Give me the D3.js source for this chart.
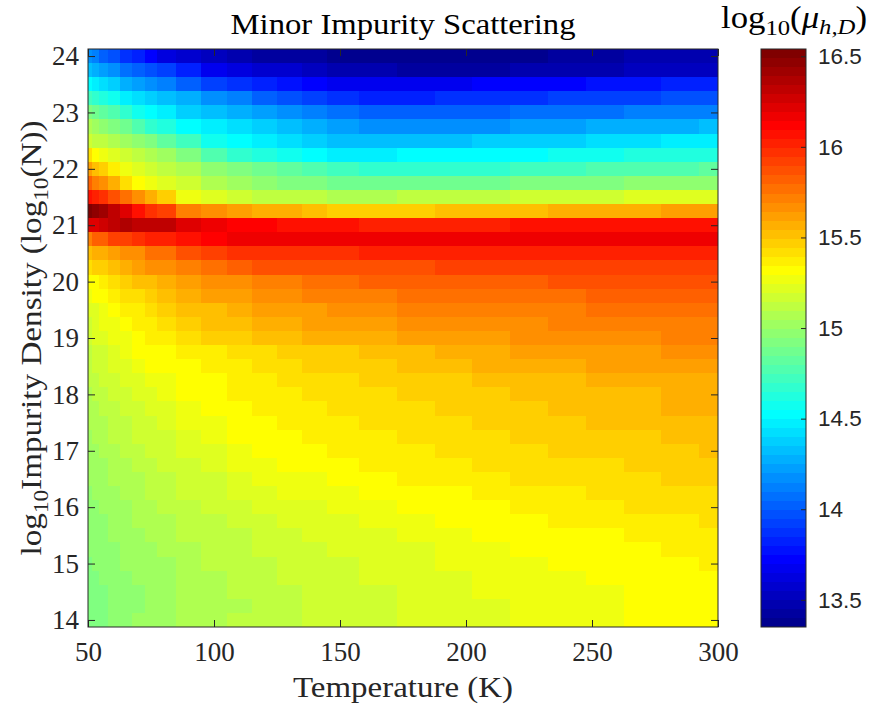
<!DOCTYPE html>
<html><head><meta charset="utf-8">
<script src="https://cdn.jsdelivr.net/npm/d3@7"></script>
<style>body{margin:0;background:#fff}svg{display:block}
.ax text{font-family:'Liberation Serif','Times New Roman',serif !important;}
.cb text{font-family:'Liberation Sans',Arial,sans-serif !important;}
</style>
</head><body><svg id="chart" width="873" height="709"></svg>
<script>
// ---------------- data ----------------
const temperatures = [50,53,56,60,65,70,75,80,90,100,110,120,130,140,150,165,180,195,210,225,240,255,270,285,300];
const densities = [24,23.75,23.5,23.25,23,22.75,22.5,22.25,22,21.75,21.5,21.25,21,20.75,20.5,20.25,20,19.75,19.5,19.25,19,18.75,18.5,18.25,18,17.75,17.5,17.25,17,16.75,16.5,16.25,16,15.75,15.5,15.25,15,14.75,14.5,14.25,14];
// log10(mu_h,D), one row per density (top row = 24), one entry per temperature
const mobility = [
[14.18,14.13,14.03,13.98,13.88,13.83,13.73,13.63,13.58,13.53,13.48,13.43,13.43,13.43,13.38,13.38,13.38,13.38,13.38,13.38,13.43,13.43,13.48,13.48,13.48],
[14.33,14.28,14.23,14.18,14.08,14.03,13.98,13.93,13.83,13.68,13.63,13.58,13.58,13.53,13.48,13.48,13.43,13.43,13.43,13.48,13.48,13.48,13.53,13.53,13.53],
[14.53,14.48,14.43,14.38,14.28,14.23,14.18,14.13,14.03,13.93,13.88,13.83,13.78,13.73,13.68,13.68,13.68,13.68,13.73,13.73,13.73,13.78,13.78,13.83,13.83],
[14.73,14.68,14.63,14.58,14.48,14.43,14.38,14.33,14.28,14.18,14.13,14.03,13.98,13.93,13.88,13.83,13.83,13.88,13.88,13.88,13.93,13.93,13.93,13.98,13.98],
[14.93,14.88,14.83,14.78,14.68,14.58,14.53,14.48,14.38,14.33,14.28,14.23,14.18,14.13,14.08,14.03,14.03,14.03,14.03,14.08,14.08,14.08,14.13,14.13,14.13],
[15.08,15.03,14.98,14.93,14.88,14.78,14.68,14.63,14.53,14.48,14.43,14.38,14.33,14.28,14.23,14.18,14.18,14.18,14.18,14.23,14.23,14.28,14.28,14.28,14.33],
[15.18,15.13,15.13,15.08,15.03,14.98,14.93,14.83,14.73,14.58,14.53,14.48,14.43,14.38,14.33,14.33,14.33,14.33,14.38,14.38,14.38,14.43,14.43,14.48,14.48],
[15.43,15.33,15.28,15.23,15.18,15.13,15.08,15.03,14.93,14.78,14.68,14.63,14.58,14.53,14.48,14.48,14.53,14.53,14.53,14.53,14.58,14.58,14.63,14.63,14.63],
[15.63,15.53,15.48,15.38,15.28,15.23,15.18,15.13,15.08,14.98,14.93,14.88,14.83,14.78,14.73,14.68,14.68,14.68,14.68,14.73,14.73,14.78,14.78,14.78,14.83],
[15.83,15.73,15.68,15.58,15.43,15.33,15.28,15.23,15.18,15.08,15.03,14.98,14.93,14.93,14.88,14.88,14.88,14.88,14.88,14.93,14.93,14.93,14.98,14.98,14.98],
[16.08,16.03,15.98,15.88,15.78,15.68,15.58,15.48,15.28,15.23,15.18,15.13,15.13,15.13,15.08,15.08,15.13,15.13,15.13,15.18,15.18,15.18,15.23,15.23,15.23],
[16.53,16.48,16.43,16.33,16.23,16.08,15.98,15.93,15.73,15.68,15.63,15.58,15.58,15.53,15.48,15.48,15.48,15.53,15.53,15.53,15.58,15.58,15.58,15.63,15.63],
[16.23,16.23,16.28,16.33,16.38,16.33,16.33,16.33,16.23,16.18,16.13,16.13,16.08,16.08,16.08,16.03,16.03,16.03,16.03,16.08,16.08,16.08,16.08,16.08,16.08],
[15.73,15.83,15.83,15.93,15.93,15.98,16.03,16.03,16.08,16.13,16.18,16.18,16.18,16.18,16.18,16.18,16.18,16.18,16.18,16.18,16.18,16.18,16.18,16.18,16.18],
[15.53,15.58,15.58,15.63,15.68,15.68,15.78,15.78,15.88,15.93,15.98,15.98,15.98,15.98,15.98,16.03,16.03,16.03,16.03,16.03,16.03,16.03,16.03,16.03,16.03],
[15.43,15.48,15.48,15.53,15.58,15.63,15.68,15.68,15.73,15.78,15.83,15.88,15.88,15.88,15.88,15.88,15.88,15.93,15.93,15.93,15.93,15.93,15.93,15.93,15.93],
[15.33,15.33,15.38,15.43,15.48,15.53,15.53,15.58,15.63,15.68,15.68,15.73,15.73,15.78,15.78,15.83,15.83,15.83,15.83,15.83,15.88,15.88,15.88,15.88,15.88],
[15.28,15.33,15.33,15.38,15.43,15.43,15.48,15.53,15.58,15.63,15.63,15.68,15.68,15.73,15.73,15.73,15.78,15.78,15.78,15.78,15.78,15.83,15.83,15.83,15.83],
[15.23,15.23,15.28,15.33,15.38,15.38,15.43,15.48,15.53,15.53,15.58,15.63,15.63,15.63,15.68,15.68,15.73,15.73,15.73,15.73,15.73,15.78,15.78,15.78,15.78],
[15.18,15.23,15.28,15.28,15.33,15.38,15.38,15.43,15.48,15.53,15.53,15.58,15.58,15.63,15.63,15.63,15.68,15.68,15.68,15.68,15.73,15.73,15.73,15.73,15.73],
[15.18,15.23,15.23,15.28,15.28,15.33,15.38,15.38,15.43,15.48,15.48,15.53,15.53,15.58,15.58,15.58,15.63,15.63,15.63,15.68,15.68,15.68,15.68,15.73,15.73],
[15.13,15.18,15.18,15.23,15.28,15.33,15.33,15.33,15.38,15.38,15.43,15.43,15.48,15.48,15.48,15.53,15.53,15.58,15.58,15.63,15.63,15.63,15.63,15.68,15.68],
[15.13,15.18,15.18,15.23,15.23,15.28,15.33,15.33,15.33,15.38,15.38,15.43,15.43,15.48,15.48,15.48,15.53,15.53,15.58,15.58,15.58,15.63,15.63,15.63,15.63],
[15.13,15.13,15.18,15.18,15.23,15.23,15.28,15.28,15.33,15.33,15.38,15.38,15.43,15.43,15.43,15.48,15.48,15.48,15.53,15.53,15.53,15.58,15.58,15.58,15.58],
[15.08,15.13,15.13,15.18,15.18,15.23,15.23,15.28,15.33,15.33,15.38,15.38,15.38,15.43,15.43,15.43,15.48,15.48,15.48,15.53,15.53,15.53,15.53,15.58,15.58],
[15.08,15.08,15.13,15.13,15.18,15.18,15.23,15.23,15.28,15.33,15.33,15.38,15.38,15.38,15.43,15.43,15.43,15.48,15.48,15.48,15.53,15.53,15.53,15.58,15.58],
[15.08,15.08,15.08,15.13,15.13,15.18,15.18,15.23,15.28,15.28,15.33,15.33,15.38,15.38,15.38,15.43,15.43,15.43,15.48,15.48,15.48,15.53,15.53,15.53,15.53],
[15.03,15.08,15.08,15.13,15.13,15.18,15.18,15.18,15.23,15.28,15.33,15.33,15.33,15.38,15.38,15.38,15.43,15.43,15.43,15.48,15.48,15.48,15.48,15.53,15.53],
[15.03,15.03,15.08,15.08,15.13,15.13,15.18,15.18,15.23,15.23,15.28,15.33,15.33,15.33,15.38,15.38,15.38,15.43,15.43,15.43,15.48,15.48,15.48,15.48,15.53],
[15.03,15.03,15.03,15.08,15.08,15.13,15.13,15.18,15.18,15.23,15.28,15.28,15.33,15.33,15.33,15.38,15.38,15.38,15.43,15.43,15.43,15.43,15.48,15.48,15.48],
[15.03,15.03,15.03,15.08,15.08,15.08,15.13,15.13,15.18,15.18,15.23,15.28,15.28,15.28,15.33,15.33,15.38,15.38,15.38,15.43,15.43,15.43,15.43,15.48,15.48],
[14.98,15.03,15.03,15.03,15.08,15.08,15.13,15.13,15.18,15.18,15.23,15.23,15.28,15.28,15.28,15.33,15.33,15.33,15.38,15.38,15.38,15.43,15.43,15.43,15.43],
[14.98,14.98,15.03,15.03,15.03,15.08,15.08,15.13,15.13,15.18,15.18,15.23,15.23,15.23,15.28,15.28,15.33,15.33,15.33,15.38,15.38,15.38,15.43,15.43,15.43],
[14.98,14.98,14.98,15.03,15.03,15.08,15.08,15.08,15.13,15.13,15.18,15.18,15.23,15.23,15.23,15.28,15.28,15.33,15.33,15.33,15.38,15.38,15.38,15.38,15.43],
[14.98,14.98,14.98,15.03,15.03,15.03,15.08,15.08,15.13,15.13,15.13,15.18,15.18,15.23,15.23,15.23,15.28,15.28,15.33,15.33,15.33,15.33,15.38,15.38,15.38],
[14.98,14.98,14.98,14.98,15.03,15.03,15.03,15.08,15.08,15.13,15.13,15.18,15.18,15.18,15.23,15.23,15.23,15.28,15.28,15.33,15.33,15.33,15.33,15.38,15.38],
[14.93,14.98,14.98,14.98,15.03,15.03,15.03,15.03,15.08,15.13,15.13,15.13,15.18,15.18,15.18,15.23,15.23,15.28,15.28,15.28,15.33,15.33,15.33,15.33,15.38],
[14.93,14.93,14.98,14.98,14.98,15.03,15.03,15.03,15.08,15.08,15.13,15.13,15.18,15.18,15.18,15.23,15.23,15.23,15.28,15.28,15.28,15.33,15.33,15.33,15.33],
[14.93,14.93,14.93,14.98,14.98,14.98,15.03,15.03,15.08,15.08,15.13,15.13,15.13,15.18,15.18,15.18,15.23,15.23,15.28,15.28,15.28,15.28,15.33,15.33,15.33],
[14.93,14.93,14.93,14.98,14.98,14.98,15.03,15.03,15.08,15.08,15.08,15.13,15.13,15.18,15.18,15.18,15.23,15.23,15.23,15.28,15.28,15.28,15.33,15.33,15.33],
[14.93,14.93,14.93,14.98,14.98,15.03,15.03,15.03,15.08,15.08,15.13,15.13,15.13,15.18,15.18,15.18,15.23,15.23,15.23,15.28,15.28,15.28,15.33,15.33,15.33]
];
const xTicks = [50,100,150,200,250,300];
const yTicks = [14,15,16,17,18,19,20,21,22,23,24];
const colorTicks = [13.5,14,14.5,15,15.5,16,16.5];
const colorDomain = [13.35, 16.54];
const xDomain = [50, 300];

// ---------------- layout ----------------
const plot = {left: 88, right: 718, top: 49, bottom: 627};
const cbar = {left: 761, right: 806};
const axisColor = "#262626";
const serif = "'Liberation Serif', 'Times New Roman', serif";
const sans = "'Liberation Sans', Arial, sans-serif";

// MATLAB-style jet colormap with 64 entries
function jetColor(k) { // k = 1..64
  const r = k <= 24 ? 0 : k <= 40 ? (k - 24) / 16 : k <= 56 ? 1 : 1 - (k - 56) / 16;
  const g = k <= 8 ? 0 : k <= 24 ? (k - 8) / 16 : k <= 40 ? 1 : k <= 56 ? 1 - (k - 40) / 16 : 0;
  const b = k <= 8 ? (k + 8) / 16 : k <= 24 ? 1 : k <= 40 ? 1 - (k - 24) / 16 : 0;
  return d3.rgb(r * 255, g * 255, b * 255).formatHex();
}
const jet = d3.range(1, 65).map(jetColor);

const svg = d3.select("#chart");
const half = (densities[0] - densities[1]) / 2;
const x = d3.scaleLinear(xDomain, [plot.left, plot.right]);
const y = d3.scaleLinear([densities[densities.length - 1] - half, densities[0] + half], [plot.bottom, plot.top]);
const color = d3.scaleQuantize(colorDomain, jet);

// column edges (midpoints between sampled temperatures)
const edges = [xDomain[0]];
for (let j = 1; j < temperatures.length; j++) edges.push((temperatures[j - 1] + temperatures[j]) / 2);
edges.push(xDomain[1]);

const cells = [];
densities.forEach((n, i) => temperatures.forEach((t, j) => cells.push({n, j, v: mobility[i][j]})));

svg.append("g").attr("shape-rendering", "crispEdges")
  .selectAll("rect").data(cells).join("rect")
  .attr("x", d => x(edges[d.j]))
  .attr("width", d => x(edges[d.j + 1]) - x(edges[d.j]))
  .attr("y", d => y(d.n + half))
  .attr("height", d => y(d.n - half) - y(d.n + half))
  .attr("fill", d => color(d.v));

// axes
function styleAxis(g, fontSize) {
  g.attr("class", "ax").attr("font-family", serif).attr("font-size", fontSize);
  g.select(".domain").remove();
  g.selectAll(".tick line").attr("stroke", axisColor).attr("stroke-width", 1);
  g.selectAll(".tick text").attr("fill", axisColor)
    .style("font-family", serif).style("font-size", fontSize + "px");
}
svg.append("g").attr("transform", `translate(0,${plot.bottom})`)
  .call(d3.axisBottom(x).tickValues(xTicks).tickSizeInner(-7).tickSizeOuter(0).tickPadding(15))
  .call(g => styleAxis(g, 27));
svg.append("g").attr("transform", `translate(0,${plot.top})`)
  .call(d3.axisTop(x).tickValues(xTicks).tickSizeInner(-7).tickSizeOuter(0).tickFormat(""))
  .call(g => styleAxis(g, 27));
svg.append("g").attr("transform", `translate(${plot.left},0)`)
  .call(d3.axisLeft(y).tickValues(yTicks).tickSizeInner(-7).tickSizeOuter(0).tickPadding(9))
  .call(g => styleAxis(g, 27));
svg.append("g").attr("transform", `translate(${plot.right},0)`)
  .call(d3.axisRight(y).tickValues(yTicks).tickSizeInner(-7).tickSizeOuter(0).tickFormat(""))
  .call(g => styleAxis(g, 27));
svg.append("rect").attr("x", plot.left).attr("y", plot.top)
  .attr("width", plot.right - plot.left).attr("height", plot.bottom - plot.top)
  .attr("fill", "none").attr("stroke", axisColor).attr("stroke-width", 1);

// title and labels
svg.append("text").attr("x", (plot.left + plot.right) / 2).attr("y", 34)
  .attr("text-anchor", "middle").attr("font-family", serif).attr("font-size", 30)
  .attr("textLength", 345).attr("lengthAdjust", "spacingAndGlyphs")
  .attr("fill", "#000").text("Minor Impurity Scattering");
svg.append("text").attr("x", (plot.left + plot.right) / 2).attr("y", 697)
  .attr("text-anchor", "middle").attr("font-family", serif).attr("font-size", 30)
  .attr("textLength", 220).attr("lengthAdjust", "spacingAndGlyphs")
  .attr("fill", axisColor).text("Temperature (K)");

const yl = svg.append("text")
  .attr("transform", `translate(41,${(plot.top + plot.bottom) / 2}) rotate(-90)`)
  .attr("text-anchor", "middle").attr("font-family", serif).attr("font-size", 30)
  .attr("textLength", 435).attr("lengthAdjust", "spacingAndGlyphs")
  .attr("fill", axisColor);
yl.append("tspan").text("log");
yl.append("tspan").attr("font-size", 21).attr("dy", 7).text("10");
yl.append("tspan").attr("dy", -7).text("Impurity Density (log");
yl.append("tspan").attr("font-size", 21).attr("dy", 7).text("10");
yl.append("tspan").attr("dy", -7).text("(N))");

// colorbar
const cy = d3.scaleLinear(colorDomain, [plot.bottom, plot.top]);
const bandW = (colorDomain[1] - colorDomain[0]) / jet.length;
svg.append("g").attr("shape-rendering", "crispEdges")
  .selectAll("rect").data(jet).join("rect")
  .attr("x", cbar.left).attr("width", cbar.right - cbar.left)
  .attr("y", (c, i) => cy(colorDomain[0] + (i + 1) * bandW))
  .attr("height", (c, i) => cy(colorDomain[0] + i * bandW) - cy(colorDomain[0] + (i + 1) * bandW))
  .attr("fill", c => c);
svg.append("g").attr("transform", `translate(${cbar.right},0)`)
  .call(d3.axisRight(cy).tickValues(colorTicks).tickSizeInner(-5).tickSizeOuter(0).tickPadding(12).tickFormat(d3.format("")))
  .call(g => {
    g.attr("class", "cb").attr("font-family", sans);
    g.select(".domain").remove();
    g.selectAll(".tick line").attr("stroke", axisColor);
    g.selectAll(".tick text").attr("fill", axisColor).style("font-family", sans).style("font-size", "22.5px");
  });
svg.append("rect").attr("x", cbar.left).attr("y", plot.top)
  .attr("width", cbar.right - cbar.left).attr("height", plot.bottom - plot.top)
  .attr("fill", "none").attr("stroke", axisColor).attr("stroke-width", 1);

const ct = svg.append("text").attr("x", 794).attr("y", 28)
  .attr("text-anchor", "middle").attr("font-family", serif).attr("font-size", 31)
  .attr("textLength", 146).attr("lengthAdjust", "spacingAndGlyphs")
  .attr("fill", "#000");
ct.append("tspan").text("log");
ct.append("tspan").attr("font-size", 22).attr("dy", 7).text("10");
ct.append("tspan").attr("dy", -7).text("(");
ct.append("tspan").attr("font-style", "italic").text("μ");
ct.append("tspan").attr("font-style", "italic").attr("font-size", 22).attr("dy", 6).text("h,D");
ct.append("tspan").attr("dy", -6).text(")");
</script></body></html>
